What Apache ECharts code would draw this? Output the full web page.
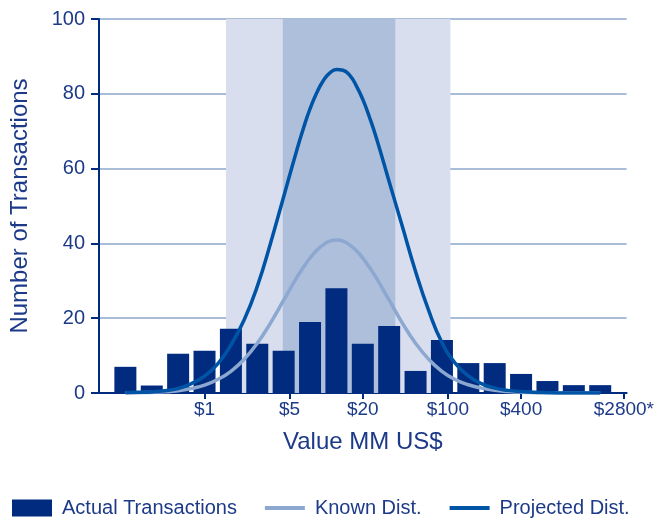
<!DOCTYPE html>
<html>
<head>
<meta charset="utf-8">
<script src="https://cdn.jsdelivr.net/npm/echarts@6/dist/echarts.min.js"></script>
<style>html,body{margin:0;padding:0;background:#fff;}#c{width:657px;height:520px;}</style>
</head>
<body>
<div id="c"></div>
<script>
// ---- data ----
// bar bins (bin index along the log-dollar axis; bin 4 = $1, bin 10 = $20, bin 16 = $400)
var binIndex = [1,2,3,4,5,6,7,8,9,10,11,12,13,14,15,16,17,18,19];
var actualTransactions = [7,2,10.5,11.3,17.2,13.2,11.3,19,28,13.2,17.9,5.9,14.2,8,8,5.1,3.2,2.1,2.1];

// curve sample positions (bin index)
var curveX = [1,1.5,2,2.5,3,3.5,4,4.5,5,5.5,6,6.5,7,7.5,7.75,8,8.25,8.5,8.75,9,9.25,9.5,9.75,10,10.25,10.5,11,11.5,12,12.5,13,13.5,14,14.5,15,15.5,16,16.5,17,17.5,18,18.5,19];
var knownDist = [0.05,0.1,0.15,0.3,0.6,1.2,2.1,3.6,5.8,9,13.3,18.7,24.8,30.9,33.6,36.1,38.1,39.6,40.6,40.9,40.6,39.6,38.1,36.1,33.6,30.9,24.8,18.7,13.3,9,5.8,3.6,2.2,1.3,0.7,0.4,0.2,0.1,0.05,0,0,0,0];
var projectedDist = [0.1,0.2,0.3,0.6,1.2,2.5,4.5,7.8,12.8,19.5,28.5,40,52.5,65,70.8,76,80.2,83.5,85.6,86.5,86.3,85,82.2,78.5,73.8,68.5,56.5,44.5,32.5,22,13.5,8,4.6,2.5,1.3,0.7,0.4,0.2,0.1,0,0,0,0];

// x tick labels (dollar values, MM US$)
var tickDollars = [1,5,20,100,400,2800];
var tickLabels = ['$1','$5','$20','$100','$400','$2800*'];

// shaded ranges (dollar values)
var lightBand = [1.5, 105];
var darkBand = [4.4, 37];

// ---- helpers: dollar value -> bin index position (log scale, 6 bins per factor 20) ----
function pos(v){ return 4 + 6*Math.log(v)/Math.log(20); }
var tickPos = tickDollars.map(pos);
function labelFor(v){
  for (var i=0;i<tickPos.length;i++){ if (Math.abs(tickPos[i]-v) < 1e-6) return tickLabels[i]; }
  return '';
}

var navy = '#002b7f';
var textColor = '#1c3a88';
var font = '"Liberation Sans", Arial, Helvetica, sans-serif';
var lineIcon = 'path://M0,0H40V4H0Z';

var chart = echarts.init(document.getElementById('c'), null, {renderer:'canvas'});
chart.setOption({
  animation: false,
  backgroundColor: '#fff',
  textStyle: {fontFamily: font},
  grid: {left: 98, right: 29, top: 19, bottom: 127, containLabel: false},
  legend: {
    left: 12, top: 498, padding: 0,
    itemWidth: 40, itemHeight: 17, itemGap: 28,
    textStyle: {fontSize: 20, color: textColor, fontFamily: font, padding: [0,0,0,5]},
    data: [
      {name:'Actual Transactions', icon:'rect'},
      {name:'Known Dist.', icon: lineIcon},
      {name:'Projected Dist.', icon: lineIcon}
    ]
  },
  xAxis: {
    type: 'value', min: 0, max: 20,
    name: 'Value MM US$', nameLocation: 'middle', nameGap: 37,
    nameTextStyle: {fontSize: 24, color: textColor, fontFamily: font},
    axisLine: {show: true, onZero: false, lineStyle: {color: navy, width: 2}},
    axisTick: {show: true, customValues: tickPos, length: 6, lineStyle: {color: navy, width: 2}},
    axisLabel: {customValues: tickPos, formatter: labelFor, fontSize: 19, color: textColor, margin: 7, fontFamily: font},
    splitLine: {show: false}
  },
  yAxis: {
    type: 'value', min: 0, max: 100, interval: 20,
    name: 'Number of Transactions', nameLocation: 'middle', nameGap: 67, nameRotate: 90,
    nameTextStyle: {fontSize: 24, color: textColor, fontFamily: font},
    axisLine: {show: true, lineStyle: {color: navy, width: 2}},
    axisTick: {show: true, length: 8, lineStyle: {color: navy, width: 2}},
    axisLabel: {fontSize: 20, color: textColor, margin: 14, fontFamily: font},
    splitLine: {show: true, lineStyle: {color: '#a9bcd8', width: 2}}
  },
  series: [
    {
      name: 'bands', type: 'line', data: [], z: -1, silent: true,
      markArea: {
        silent: true,
        data: [
          [{xAxis: pos(lightBand[0]), itemStyle: {color: '#d8deee'}}, {xAxis: pos(lightBand[1])}],
          [{xAxis: pos(darkBand[0]), itemStyle: {color: '#adbfda'}}, {xAxis: pos(darkBand[1])}]
        ]
      }
    },
    {
      name: 'Actual Transactions', type: 'bar', barWidth: 22,
      itemStyle: {color: navy},
      data: binIndex.map(function(b,i){ return [b, actualTransactions[i]]; })
    },
    {
      name: 'Known Dist.', type: 'line', smooth: true, symbol: 'none',
      lineStyle: {color: '#8da8d0', width: 3.5}, itemStyle: {color: '#8da8d0'},
      data: curveX.map(function(x,i){ return [x, knownDist[i]]; })
    },
    {
      name: 'Projected Dist.', type: 'line', smooth: true, symbol: 'none',
      lineStyle: {color: '#0054a6', width: 3.5}, itemStyle: {color: '#0054a6'},
      data: curveX.map(function(x,i){ return [x, projectedDist[i]]; })
    }
  ]
});
</script>
</body>
</html>
